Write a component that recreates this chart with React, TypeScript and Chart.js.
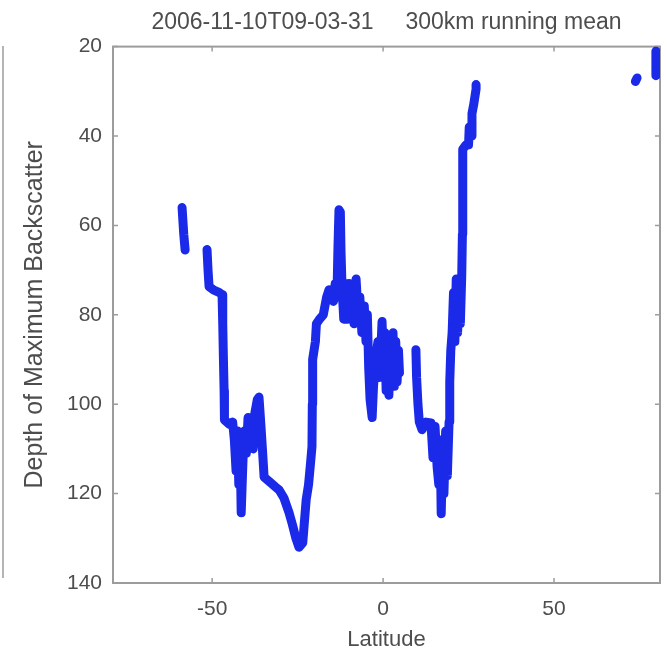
import React, { useEffect, useRef } from "react";
import { Chart, registerables } from "chart.js";

Chart.register(...registerables);

const TITLE = "2006-11-10T09-03-31     300km running mean";
const X_LABEL = "Latitude";
const Y_LABEL = "Depth of Maximum Backscatter";
const X_TICKS = [-50, 0, 50];
const Y_TICKS = [20, 40, 60, 80, 100, 120, 140];

// Segment 1 (far south)
const latA = [-58.8, -58.3, -57.9];
const depthA = [56, 62, 65.5];

// Segment 2 (south to equator)
const latB = [
  -51.5, -51.2, -50.9, -49.5, -48, -47.1, -46.9, -46.7, -46.5, -46.4, -45, -44, -43.5, -43, -42.6,
  -42.2, -41.8, -41.5, -41, -40.6, -40, -39.5, -39, -38.5, -38, -37.5, -36.8, -36.3, -35.8, -35.3,
  -34.8, -33, -31.5, -30.4, -29, -27.5, -26.5, -25.5, -24.6, -23.5, -22.5, -21.8, -21.2, -20.8,
  -20.7, -20.6, -19.8, -19.5, -18.7, -17.5, -16.5, -15.8, -14.5, -14, -13.5, -13.2, -12.9, -12.5,
  -12.3, -12, -11.5, -11, -10.5, -10, -9.5, -9, -8.5, -7.9, -7.3, -6.8, -6.2, -5.5, -5, -4.6,
  -4.2, -3.8, -3.2, -2.8, -2.2, -1.5, -1, -0.3, 0.1, 0.5, 0.9, 1.3, 1.7, 2.1, 2.5, 2.9, 3.3,
  3.7, 4.1, 4.5, 4.8,
];
const depthB = [
  65.4, 70, 73.7, 74.5, 75, 75.5, 82, 90, 97, 103.5, 104.5, 104, 108, 115, 106,
  118, 110, 124.3, 113, 106, 111, 103, 109, 104, 110, 102, 99, 98.4, 104, 110,
  116.3, 117.5, 118.5, 119.2, 121, 124.3, 127, 130, 132, 131, 121.4, 118, 113, 109.5,
  100, 90, 86, 82, 81.1, 80, 76, 74.4, 77, 73, 76, 65, 56.5, 57,
  66, 74, 81, 73, 81, 73, 80, 74, 82, 72, 80, 76, 84, 78, 86, 80,
  92, 99, 103, 96, 90, 86, 94, 81.5, 92, 84, 97, 86, 98, 85, 95, 84,
  96, 86, 95, 88, 93,
];

// Segment 3 (northern tropics)
const latC = [
  9.6, 9.8, 10.2, 10.6, 11.4, 12.5, 14, 14.6, 15.2, 15.8, 16.3, 16.7, 17, 17.4, 17.8, 18.3, 18.8,
  19.3, 19.5, 19.8, 20.2, 20.6, 21, 21.4, 21.8, 22.2, 22.6, 23, 23.2, 23.3, 23.3, 24.2, 25, 25.2,
  25.8, 26, 26.5, 27.2, 27.2,
];
const depthC = [
  87.8, 94, 100, 104, 105.7, 104, 104.2, 112, 105, 114, 118, 108, 124.5, 112, 120, 106, 116,
  104, 95, 88, 84, 75, 86, 72, 84, 73, 82, 71.5, 62, 52, 43, 42, 42, 38,
  40, 35, 33, 29.5, 28.5,
];

// Segments 4 and 5 (high north)
const latD = [73.8, 74.3];
const depthD = [27.8, 27];
const latE = [79.8, 79.8];
const depthE = [21, 26.5];

const SEGMENTS = [
  [latA, depthA],
  [latB, depthB],
  [latC, depthC],
  [latD, depthD],
  [latE, depthE],
];

const BLUE = "#1a2ae8";
const TEXT = "#4d4d4d";
const FRAME = "#9c9c9c";
const FONT = "'Liberation Sans', Arial, sans-serif";

const framePlugin = {
  id: "matlabFrame",
  beforeDatasetsDraw(chart: any) {
    const { ctx, chartArea } = chart;
    const { left, right, top, bottom } = chartArea;
    const xs = chart.scales.x;
    const ys = chart.scales.y;
    ctx.save();
    ctx.strokeStyle = FRAME;
    ctx.lineWidth = 2;
    ctx.strokeRect(left, top, right - left, bottom - top);
    ctx.lineWidth = 1.5;
    const tl = 5;
    ctx.beginPath();
    X_TICKS.forEach((v) => {
      const px = xs.getPixelForValue(v);
      ctx.moveTo(px, bottom);
      ctx.lineTo(px, bottom - tl);
      ctx.moveTo(px, top);
      ctx.lineTo(px, top + tl);
    });
    Y_TICKS.forEach((v) => {
      const py = ys.getPixelForValue(v);
      ctx.moveTo(left, py);
      ctx.lineTo(left + tl, py);
      ctx.moveTo(right, py);
      ctx.lineTo(right - tl, py);
    });
    ctx.stroke();
    ctx.restore();
  },
};

export default function App() {
  const ref = useRef<HTMLCanvasElement | null>(null);

  useEffect(() => {
    if (!ref.current) return;
    const datasets = SEGMENTS.map(([lats, depths], i) => ({
      label: "segment " + (i + 1),
      data: lats.map((x, j) => ({ x, y: depths[j] })),
      borderColor: BLUE,
      backgroundColor: BLUE,
      borderWidth: 9,
      borderJoinStyle: "round" as const,
      borderCapStyle: "round" as const,
      pointRadius: 0,
      tension: 0,
      fill: false,
    }));

    const chart = new Chart(ref.current, {
      type: "line",
      data: { datasets },
      plugins: [framePlugin],
      options: {
        responsive: false,
        animation: false,
        events: [],
        layout: { padding: { left: 0, right: 7, top: 0, bottom: 0 } },
        plugins: {
          legend: { display: false },
          tooltip: { enabled: false },
          title: {
            display: true,
            text: TITLE,
            color: TEXT,
            fullSize: false,
            font: { family: FONT, size: 23, weight: "normal" },
            padding: { top: 9, bottom: 10 },
          },
        },
        scales: {
          x: {
            type: "linear",
            min: -79,
            max: 81,
            afterBuildTicks: (s: any) => {
              s.ticks = X_TICKS.map((v) => ({ value: v }));
            },
            afterFit: (s: any) => {
              s.height = 71;
            },
            grid: { display: false, drawTicks: false },
            border: { display: false },
            ticks: {
              color: TEXT,
              padding: 14,
              font: { family: FONT, size: 21 },
              maxRotation: 0,
            },
            title: {
              display: true,
              text: X_LABEL,
              color: TEXT,
              font: { family: FONT, size: 22 },
              padding: { top: 0, bottom: 1 },
            },
          },
          y: {
            type: "linear",
            reverse: true,
            min: 20,
            max: 140,
            afterBuildTicks: (s: any) => {
              s.ticks = Y_TICKS.map((v) => ({ value: v }));
            },
            afterFit: (s: any) => {
              s.width = 113;
            },
            grid: { display: false, drawTicks: false },
            border: { display: false },
            ticks: {
              color: TEXT,
              padding: 11,
              font: { family: FONT, size: 21 },
            },
            title: {
              display: true,
              text: Y_LABEL,
              color: TEXT,
              font: { family: FONT, size: 25 },
              padding: { top: 20, bottom: 0 },
            },
          },
        },
      },
    });
    return () => chart.destroy();
  }, []);

  return (
    <div
      style={{
        position: "fixed",
        left: 0,
        top: 0,
        width: 667,
        height: 654,
        background: "#ffffff",
      }}
    >
      <div
        style={{
          position: "absolute",
          left: 2,
          top: 46,
          height: 532,
          width: 0,
          borderLeft: "2px solid #b4b4b4",
        }}
      />
      <canvas ref={ref} width={667} height={654} style={{ position: "absolute", left: 0, top: 0 }} />
    </div>
  );
}
